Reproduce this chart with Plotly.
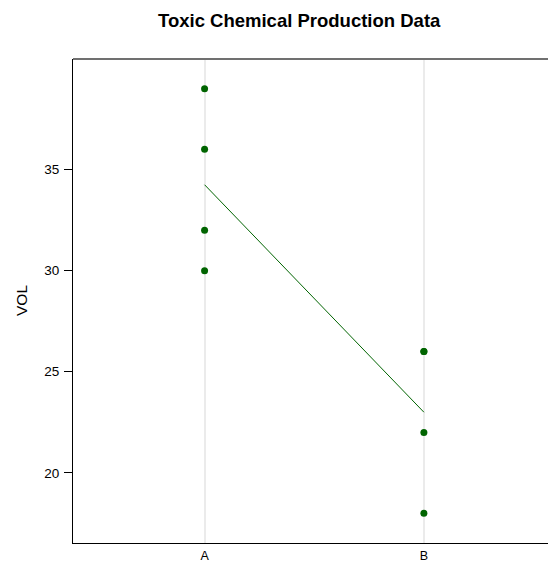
import plotly.graph_objects as go

# Data
groups_a = ["A", "A", "A", "A"]
vol_a = [39, 36, 32, 30]
groups_b = ["B", "B", "B", "B"]
vol_b = [26, 26, 22, 18]
categories = ["A", "B"]
y_ticks = [20, 25, 30, 35]

groups = groups_a + groups_b
vol = vol_a + vol_b
means = [sum(vol_a) / len(vol_a), sum(vol_b) / len(vol_b)]

green = "#006400"
fnt = "Liberation Sans, Arial, sans-serif"

fig = go.Figure()
fig.add_trace(go.Scatter(
    x=groups, y=vol, mode="markers",
    marker=dict(color=green, size=7, line=dict(width=0)),
    showlegend=False, cliponaxis=False,
))
fig.add_trace(go.Scatter(
    x=categories, y=means, mode="lines",
    line=dict(color=green, width=1),
    showlegend=False,
))

fig.update_layout(
    width=548, height=564,
    margin=dict(l=73, r=0, t=58.5, b=20.5),
    paper_bgcolor="white", plot_bgcolor="white",
    font=dict(family=fnt, color="black", size=13),
    xaxis=dict(
        type="category", categoryorder="array", categoryarray=categories,
        range=[-0.6, 1.566],
        showgrid=True, gridcolor="#ebebeb", gridwidth=2,
        showline=True, linecolor="black", linewidth=1,
        ticks="", tickfont=dict(size=12.5, color="black"),
        zeroline=False, ticklabelstandoff=1,
    ),
    yaxis=dict(
        range=[16.53, 40.47],
        tickvals=y_ticks, ticktext=[str(v) for v in y_ticks],
        showgrid=False, zeroline=False,
        showline=True, linecolor="black", linewidth=1,
        ticks="outside", ticklen=8, tickcolor="black", tickwidth=1,
        tickfont=dict(size=13.5, color="black"),
        ticklabelstandoff=2,
    ),
    shapes=[dict(type="line", xref="paper", yref="paper", x0=0, x1=1, y0=1, y1=1,
                 line=dict(color="#707070", width=2))],
    annotations=[
        dict(text="<b>Toxic Chemical Production Data</b>", xref="paper", yref="paper",
             x=(299 - 73) / 475, y=1, yshift=(58.5 - 19.5), showarrow=False,
             xanchor="center", yanchor="middle", font=dict(size=18.5, family=fnt, color="black")),
        dict(text="VOL", xref="paper", yref="paper", x=0, xshift=-(73 - 21.5), y=(543.5 - 300.5) / 485,
             textangle=-90, showarrow=False, xanchor="center", yanchor="middle",
             font=dict(size=15.5, family=fnt, color="black")),
    ],
)

fig.write_html("out.html")
